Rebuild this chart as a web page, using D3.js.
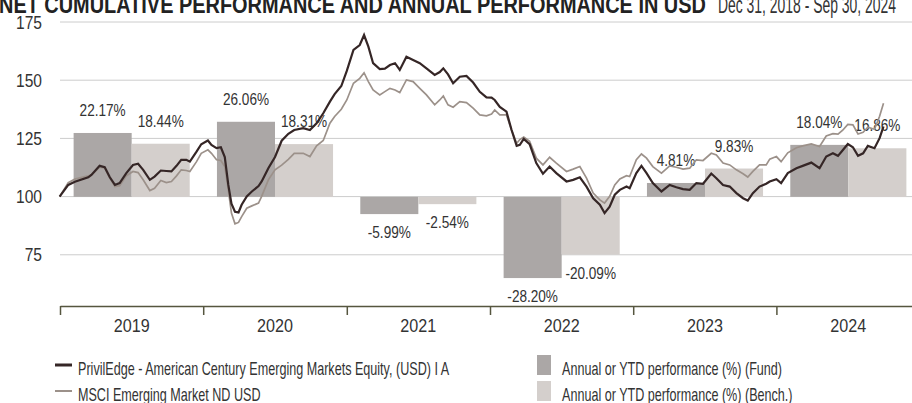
<!DOCTYPE html>
<meta charset="utf-8">
<title>Net cumulative performance</title>
<style>
  body { margin: 0; background: #fff; }
  svg { display: block; }
  text { font-family: "Liberation Sans", Arial, sans-serif; fill: #333; }
</style>
<body>
<script src="https://d3js.org/d3.v7.min.js"></script>
<script>

// annual bars
var years = ["2019", "2020", "2021", "2022", "2023", "2024"];
var fundAnnual = [22.17, 26.06, -5.99, -28.20, 4.81, 18.04];
var benchAnnual = [18.44, 18.31, -2.54, -20.09, 9.83, 16.86];
var yTicks = [75, 100, 125, 150, 175];

// cumulative lines (rebased to 100)
var dates = [
  "2018-12-31","2019-01-22","2019-02-08","2019-03-14","2019-03-22","2019-04-12","2019-04-25","2019-05-08",
  "2019-05-21","2019-06-02","2019-06-19","2019-07-06","2019-07-19","2019-08-01","2019-08-18","2019-08-30",
  "2019-09-15","2019-09-29","2019-10-12","2019-10-25","2019-11-06","2019-11-19","2019-11-28","2019-12-15",
  "2019-12-27","2020-01-13","2020-01-22","2020-02-04","2020-02-15","2020-02-25","2020-03-05","2020-03-13",
  "2020-03-22","2020-03-31","2020-04-08","2020-04-21","2020-05-04","2020-05-21","2020-05-29","2020-06-15",
  "2020-07-02","2020-07-19","2020-08-05","2020-08-20","2020-09-12","2020-09-29","2020-10-16","2020-11-02",
  "2020-11-19","2020-12-01","2020-12-18","2021-01-01","2021-01-18","2021-02-03","2021-02-14","2021-02-25",
  "2021-03-09","2021-03-26","2021-04-08","2021-04-21","2021-05-04","2021-05-16","2021-06-02","2021-06-19",
  "2021-07-06","2021-07-23","2021-08-13","2021-08-26","2021-09-04","2021-09-16","2021-09-29","2021-10-16",
  "2021-11-02","2021-11-19","2021-12-06","2021-12-23","2022-01-05","2022-01-13","2022-01-26","2022-02-12",
  "2022-02-25","2022-03-10","2022-03-18","2022-03-28","2022-04-12","2022-04-29","2022-05-16","2022-06-02",
  "2022-06-19","2022-07-15","2022-08-01","2022-08-18","2022-09-04","2022-09-21","2022-10-08","2022-10-20",
  "2022-11-02","2022-11-15","2022-11-28","2022-12-15","2022-12-23","2023-01-09","2023-01-22","2023-02-04",
  "2023-02-20","2023-03-14","2023-04-04","2023-04-21","2023-05-08","2023-05-25","2023-06-11","2023-06-28",
  "2023-07-19","2023-08-01","2023-08-18","2023-09-04","2023-09-21","2023-10-08","2023-10-20","2023-11-02",
  "2023-11-19","2023-12-06","2023-12-15","2024-01-01","2024-01-13","2024-01-30","2024-02-21","2024-03-08",
  "2024-03-30","2024-04-20","2024-05-07","2024-05-24","2024-06-06","2024-06-18","2024-07-01","2024-07-14",
  "2024-07-27","2024-08-09","2024-08-21","2024-09-07","2024-09-20","2024-09-30"
];
var fund = [
  100, 105.0, 106.4, 108.3, 109.3, 113.2, 112.6, 108.3,
  105.0, 105.8, 110.1, 113.6, 114.1, 111.5, 107.2, 108.6,
  111.2, 111.0, 110.8, 113.2, 115.8, 115.8, 115.0, 119.3,
  122.5, 124.1, 122.2, 120.8, 121.2, 117.0, 105.0, 97.0,
  93.5, 93.2, 96.5, 100.1, 102.2, 104.5, 106.5, 112.2,
  117.0, 124.0, 127.0, 128.6, 129.4, 128.6, 131.5, 135.8,
  140.8, 144.0, 147.5, 154.0, 163.0, 165.1, 169.4, 164.4,
  157.3, 154.8, 155.0, 156.5, 157.3, 154.4, 160.1, 158.7,
  157.3, 155.1, 152.3, 153.5, 155.1, 152.5, 148.7, 151.5,
  151.8, 149.0, 145.0, 142.6, 142.5, 141.5, 138.5, 136.5,
  128.6, 121.8, 122.2, 124.8, 122.5, 114.4, 109.8, 112.9,
  110.1, 106.5, 107.2, 108.3, 104.3, 99.3, 96.5, 92.9,
  95.7, 100.8, 102.9, 104.3, 103.6, 110.1, 113.2, 110.1,
  105.8, 102.2, 105.0, 104.0, 103.2, 102.9, 105.8, 105.5,
  109.9, 107.9, 105.0, 104.3, 101.5, 99.3, 98.3, 101.5,
  104.3, 105.5, 106.5, 107.5, 105.8, 110.1, 112.2, 113.2,
  114.6, 112.2, 117.2, 118.6, 117.5, 119.9, 122.6, 121.2,
  117.5, 118.6, 121.8, 120.8, 125.1, 130.1
];
var bench = [
  100, 106.0, 107.5, 108.9, 109.3, 112.6, 112.2, 107.9,
  104.3, 104.7, 108.9, 110.8, 110.3, 107.2, 102.6, 103.6,
  106.9, 106.0, 106.5, 108.9, 111.5, 111.2, 110.8, 115.0,
  118.6, 120.1, 118.6, 115.8, 115.5, 112.9, 102.9, 92.9,
  88.3, 88.9, 91.4, 95.0, 96.0, 97.2, 100.1, 107.2,
  111.5, 113.5, 116.0, 118.6, 118.6, 117.2, 121.8, 124.1,
  131.5, 134.4, 137.5, 141.5, 148.7, 150.8, 153.2, 149.4,
  145.8, 143.7, 145.1, 146.5, 145.8, 144.7, 150.1, 149.4,
  146.5, 143.7, 139.4, 141.5, 143.2, 139.4, 138.4, 140.8,
  140.4, 138.0, 135.1, 134.7, 135.5, 137.2, 135.1, 135.1,
  128.6, 122.9, 124.5, 125.6, 123.8, 116.5, 113.6, 116.9,
  114.4, 110.8, 111.8, 112.9, 107.9, 101.5, 98.6, 97.2,
  100.1, 105.0, 107.6, 109.0, 108.6, 115.8, 118.3, 116.5,
  112.9, 110.1, 113.2, 112.6, 111.8, 112.2, 115.8, 115.5,
  118.6, 117.9, 114.4, 113.6, 111.5, 109.8, 108.4, 110.8,
  113.6, 113.6, 116.1, 117.2, 115.0, 118.8, 121.0, 121.8,
  122.6, 121.5, 126.0, 127.0, 126.8, 128.5, 131.0, 130.8,
  126.9, 127.6, 129.8, 128.9, 134.5, 140.1
];

var width = 912;
var height = 403;

var parse = d3.timeParse("%Y-%m-%d");
var fundSeries = dates.map(function(d, i) { return { date: parse(d), v: fund[i] }; });
var benchSeries = dates.map(function(d, i) { return { date: parse(d), v: bench[i] }; });

var svg = d3.select("body")
      .append("svg")
      .attr("width", width)
      .attr("height", height);

// scales: lines on the left scale, bars on their own (percent) scale
var x = d3.scaleTime().domain([new Date(2019, 0, 1), new Date(2025, 0, 1)]).range([60, 920]);
var y = d3.scaleLinear().domain([53, 175]).range([306, 22]);
var yBar = d3.scaleLinear().domain([-37.9, 60.7]).range([306, 22]);
var xBand = d3.scaleBand().domain(years).range([60, 920]).paddingInner(0.19).paddingOuter(0.095);
var xSub = d3.scaleBand().domain(["fund", "bench"]).range([0, xBand.bandwidth()]);

// the original font is a condensed face, squeeze the text horizontally
function at(px, py, sx) {
  return "translate(" + px + "," + py + ") scale(" + sx + ",1)";
}
function pct(v) {
  return (v < 0 ? "-" : "") + Math.abs(v).toFixed(2) + "%";
}

// title (top is cut off in the original)
svg.append("text")
  .attr("transform", at(-1, 12.5, 0.83))
  .style("font-size", "24px")
  .style("font-weight", "bold")
  .style("fill", "#222")
  .text("NET CUMULATIVE PERFORMANCE AND ANNUAL PERFORMANCE IN USD");

svg.append("text")
  .attr("transform", at(718, 12.5, 0.58))
  .style("font-size", "24px")
  .text("Dec 31, 2018 - Sep 30, 2024");

// grid + y labels
svg.selectAll("line.grid")
  .data(yTicks)
  .enter().append("line")
  .attr("class", "grid")
  .attr("x1", 60).attr("x2", width)
  .attr("y1", function(d) { return y(d); })
  .attr("y2", function(d) { return y(d); })
  .style("stroke", "#cccccc");

svg.selectAll("text.ytick")
  .data(yTicks)
  .enter().append("text")
  .attr("class", "ytick")
  .attr("transform", function(d) { return at(42, y(d), 0.82); })
  .attr("dy", "0.35em")
  .attr("text-anchor", "end")
  .style("font-size", "19px")
  .text(function(d) { return d; });

// bars
var barData = [];
years.forEach(function(yr, i) {
  barData.push({ year: yr, key: "fund", v: fundAnnual[i] });
  barData.push({ year: yr, key: "bench", v: benchAnnual[i] });
});
var barColor = { fund: "#aba7a6", bench: "#d4cfcc" };

svg.selectAll("rect.bar")
  .data(barData)
  .enter().append("rect")
  .attr("class", "bar")
  .attr("x", function(d) { return xBand(d.year) + xSub(d.key); })
  .attr("width", xSub.bandwidth())
  .attr("y", function(d) { return yBar(Math.max(0, d.v)); })
  .attr("height", function(d) { return Math.abs(yBar(d.v) - yBar(0)); })
  .style("fill", function(d) { return barColor[d.key]; });

svg.selectAll("text.barlabel")
  .data(barData)
  .enter().append("text")
  .attr("class", "barlabel")
  .attr("transform", function(d) {
    var cx = xBand(d.year) + xSub(d.key) + xSub.bandwidth() / 2;
    return at(cx, d.v >= 0 ? yBar(d.v) - 17 : yBar(d.v) + 24, 0.85);
  })
  .attr("text-anchor", "middle")
  .style("font-size", "16px")
  .text(function(d) { return pct(d.v); });

// x axis
var xAxis = svg.append("g")
  .attr("transform", "translate(0,306)")
  .call(d3.axisBottom(x).ticks(d3.timeYear.every(1)).tickSize(9).tickSizeOuter(0).tickFormat(""));
xAxis.selectAll("line, path").style("stroke", "#56563f").style("stroke-width", "1.5px");

svg.selectAll("text.year")
  .data(years)
  .enter().append("text")
  .attr("class", "year")
  .attr("transform", function(d) { return at(xBand(d) + xBand.bandwidth() / 2, 332, 0.85); })
  .attr("text-anchor", "middle")
  .style("font-size", "19px")
  .text(function(d) { return d; });

// lines
var line = d3.line()
  .x(function(d) { return x(d.date); })
  .y(function(d) { return y(d.v); });

svg.append("path")
  .datum(benchSeries)
  .attr("d", line)
  .style("fill", "none")
  .style("stroke", "#9c918a")
  .style("stroke-width", "1.7px");

svg.append("path")
  .datum(fundSeries)
  .attr("d", line)
  .style("fill", "none")
  .style("stroke", "#352626")
  .style("stroke-width", "2.2px");

// legend
var legendLines = [
  { label: "PrivilEdge - American Century Emerging Markets Equity, (USD) I A", color: "#352626", w: 3 },
  { label: "MSCI Emerging Market ND USD", color: "#9c918a", w: 2 }
];
var legendBars = [
  { label: "Annual or YTD performance (%) (Fund)", color: "#aba7a6" },
  { label: "Annual or YTD performance (%) (Bench.)", color: "#d4cfcc" }
];
var rowY = [369, 395];

legendLines.forEach(function(d, i) {
  svg.append("line")
    .attr("x1", 55).attr("x2", 72)
    .attr("y1", rowY[i] - 4).attr("y2", rowY[i] - 4)
    .style("stroke", d.color)
    .style("stroke-width", d.w);
  svg.append("text")
    .attr("transform", at(78, rowY[i] + 6, 0.70))
    .style("font-size", "18px")
    .text(d.label);
});

legendBars.forEach(function(d, i) {
  svg.append("rect")
    .attr("x", 537).attr("y", rowY[i] - 14)
    .attr("width", 14).attr("height", 20)
    .style("fill", d.color);
  svg.append("text")
    .attr("transform", at(562, rowY[i] + 6, 0.70))
    .style("font-size", "18px")
    .text(d.label);
});

</script>
